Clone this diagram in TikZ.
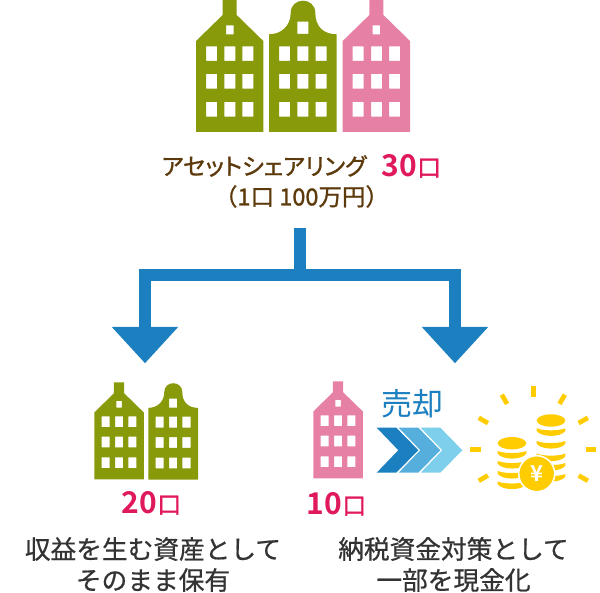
\documentclass[tikz,border=0pt]{standalone}
\usepackage{fontspec}
\usepackage{tikz}
\usetikzlibrary{arrows.meta,positioning}
\setmainfont{Noto Sans CJK JP}
\newfontfamily\jpmed[FakeBold=1.2]{Noto Sans CJK JP}
\newfontfamily\jpkana[FakeBold=1.2,RawFeature=+palt]{Noto Sans CJK JP}
\newfontfamily\jptext[FakeBold=0.7]{Noto Sans CJK JP}
\newfontfamily\jpbold{Noto Sans CJK JP Bold}
\definecolor{mlolive}{RGB}{136,153,10}
\definecolor{mlpink}{RGB}{230,128,165}
\definecolor{mlblue}{RGB}{28,127,192}
\definecolor{mlsky}{RGB}{85,174,220}
\definecolor{mlpale}{RGB}{126,207,236}
\definecolor{mlbrown}{RGB}{92,58,12}
\definecolor{mlred}{RGB}{224,24,92}
\definecolor{mlgold}{RGB}{255,204,0}
\definecolor{mlgray}{RGB}{51,51,51}
\newcommand{\sharecount}[1]{{\fontsize{30}{30}\selectfont\jpbold #1}{\fontsize{24}{24}\selectfont\jpmed 口}}
\tikzset{
  gabled/.pic={
    \path[pic actions, even odd rule] (0,41) -- (26.7,15) -- (26.7,0) -- (40.7,0) -- (40.7,15) -- (67.3,41) -- (67.3,132) -- (0,132) -- cycle
      (30,25.3) rectangle (37.5,34.3)
      \foreach \wx in {10,28.3,46.3} {\foreach \wy in {46.3,74,102} {(\wx,\wy) rectangle ++(11,14.7)}};
  },
  belled/.pic={
    \path[pic actions, even odd rule] (0,34.3) .. controls (12,34.3) and (21.7,26) .. (21.7,13) .. controls (21.7,-3.4) and (46.3,-3.4) .. (46.3,13) .. controls (46.3,27) and (55,34.3) .. (67.7,34.3) -- (67.7,132) -- (0,132) -- cycle
      (28.3,21.7) rectangle (39.3,34)
      \foreach \wx in {10,28.3,46.5} {\foreach \wy in {46.3,74,102} {(\wx,\wy) rectangle ++(11,14.7)}};
  },
  coinband/.pic={
    \fill[mlgold] (-14.3,0) .. controls (-8,2.7) and (8,2.7) .. (14.3,0) -- (14.3,2.7) .. controls (10,9.2) and (-10,9.2) .. (-14.3,2.7) -- cycle;
  }
}
\begin{document}
\begin{tikzpicture}[
  x=1pt, y=-1pt,
  label/.style={align=center, inner sep=0pt, font=\fontsize{25.7}{31}\selectfont\jptext, text=mlgray},
  count/.style={inner sep=0pt, text=mlred},
  branch/.style={line width=12pt, mlblue, -{Triangle[length=36.3pt,width=64pt]}},
  ray/.style={line width=4.7pt, mlgold}
]
\useasboundingbox (0,0) rectangle (600,593);

% Houses
\pic[fill=mlolive] at (196,0) {gabled};
\pic[fill=mlolive] at (269,0) {belled};
\pic[fill=mlpink] at (342.7,0) {gabled};
\pic[fill=mlolive, scale=.735] at (94.3,382.3) {gabled};
\pic[fill=mlolive, scale=.735] at (148.3,382.7) {belled};
\pic[fill=mlpink, scale=.735] at (313.3,381.3) {gabled};

% Top text
\node[inner sep=0pt, anchor=west, text=mlbrown, font=\fontsize{23.5}{23.5}\selectfont\jpkana] (asset) at (161.5,166) {アセットシェアリング};
\node[count, anchor=west] (total) at (381.5,166) {\sharecount{30}};
\node[inner sep=0pt, text=mlbrown, font=\fontsize{23.5}{23.5}\selectfont\jpmed] (unit) at (301.5,196.5) {（1口 100万円）};

% Split arrow
\coordinate (trunk) at (300,228);
\coordinate (fork) at (300,275);
\coordinate (keep) at (145,363.3);
\coordinate (sell) at (455,363.3);
\draw[branch] (trunk) -- (fork) -| (keep);
\draw[branch] (trunk) -- (fork) -| (sell);

% Lower text
\node[count] (keepn) at (151.5,503) {\sharecount{20}};
\node[count] (selln) at (336.5,504) {\sharecount{10}};
\node[label] (keeptxt) at (153,564.5) {収益を生む資産として\\そのまま保有};
\node[label] (selltxt) at (453.5,564.5) {納税資金対策として\\一部を現金化};
\node[inner sep=0pt, text=mlblue, font=\fontsize{31}{31}\selectfont] (sale) at (412.5,404) {売却};

% Chevrons
\foreach \cx/\ccol in {44/mlpale, 22/mlsky, 0/mlblue} {
  \fill[\ccol, xshift=\cx] (376.7,427.7) -- (396.3,427.7) -- (418.3,450.2) -- (396.3,472.7) -- (376.7,472.7) -- (398.3,450.2) -- cycle;
}

% Coins
\foreach \a in {0,30,60,90,120,150,180,210,-30} {
  \draw[ray] ({533.3+52.4*cos(\a)},{449.3-52.4*sin(\a)}) -- ({533.3+63*cos(\a)},{449.3-63*sin(\a)});
}
\fill[mlgold] (551,420.5) ellipse [x radius=14.3, y radius=6.2];
\fill[mlgold] (512,443.2) ellipse [x radius=14.3, y radius=6.2];
\foreach \by in {428.3,441,453.6,463,474} {\pic at (551,\by) {coinband};}
\foreach \by in {451,461,471,481.5} {\pic at (512,\by) {coinband};}
\node[circle, fill=mlgold, draw=white, line width=1.5pt, minimum size=36pt, inner sep=0pt, text=white, font=\fontsize{22}{22}\selectfont\jpbold] (yen) at (536.7,473.7) {¥};
\end{tikzpicture}
\end{document}
